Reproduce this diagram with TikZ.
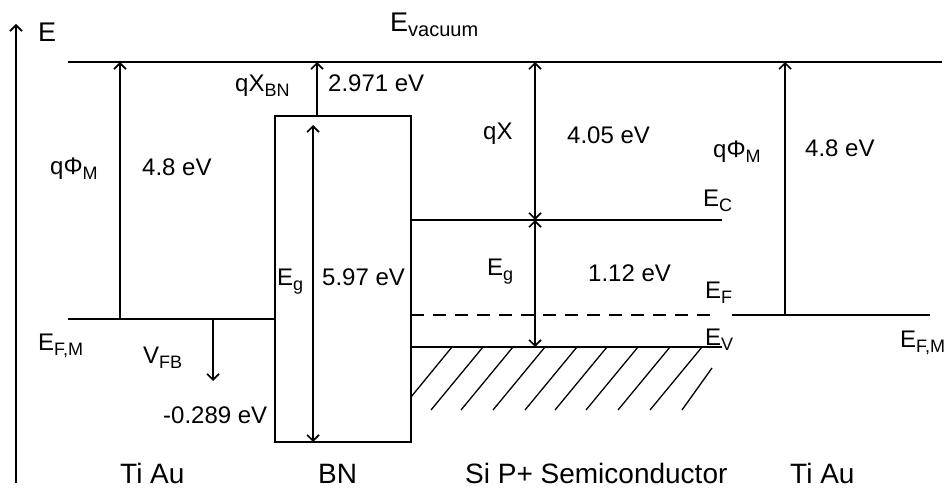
\documentclass[tikz,border=0pt]{standalone}
\usepackage{fontspec}
\setmainfont{Liberation Sans}
\usetikzlibrary{arrows.meta}
\newcommand{\lsub}[2][18]{\raisebox{-5pt}{\fontsize{#1}{#1}\selectfont #2}}
\begin{document}
\begin{tikzpicture}[x=1pt,y=-1pt,
  lvl/.style={line width=2.5pt},
  dlvl/.style={line width=2.5pt,dash pattern=on 13pt off 9pt},
  arr/.style={line width=1.6pt,-{Straight Barb[length=6pt,width=12pt]}},
  darr/.style={line width=1.6pt,{Straight Barb[length=6pt,width=12pt]}-{Straight Barb[length=6pt,width=12pt]}},
  hatchline/.style={line width=1.3pt},
  lbl/.style={inner sep=0pt,anchor=base west,font=\fontsize{24}{26}\selectfont},
  tlbl/.style={inner sep=0pt,anchor=base west,font=\fontsize{27}{29}\selectfont},
  blbl/.style={inner sep=0pt,anchor=base west,font=\fontsize{28}{30}\selectfont}]
\useasboundingbox (0,0) rectangle (950,489);
% coordinates
\coordinate (axB) at (16,483); \coordinate (axT) at (16,24);
\coordinate (vacL) at (68,62); \coordinate (vacR) at (942,62);
\coordinate (fmL) at (68,319); \coordinate (fmLe) at (275,319);
\coordinate (ecL) at (411,220); \coordinate (ecR) at (722,220);
\coordinate (efL) at (411,315); \coordinate (efR) at (716,315);
\coordinate (evL) at (411,347); \coordinate (evR) at (722,347);
\coordinate (fmRL) at (732,315); \coordinate (fmRR) at (930,315);
\coordinate (pmLb) at (120,319); \coordinate (pmLt) at (120,62);
\coordinate (xbnB) at (317,116); \coordinate (xbnT) at (317,62);
\coordinate (egbT) at (313,125); \coordinate (egbB) at (313,442);
\coordinate (vfbT) at (213,319); \coordinate (vfbB) at (213,381);
\coordinate (qxT) at (535,62); \coordinate (qxB) at (535,220);
\coordinate (egsB) at (535,347);
\coordinate (pmRb) at (785,315); \coordinate (pmRt) at (785,62);
% axis
\draw[arr] (axB) -- (axT);
% levels
\draw[lvl] (vacL) -- (vacR);
\draw[lvl] (fmL) -- (fmLe);
\node[draw,line width=2.5pt,inner sep=0pt,minimum width=136pt,minimum height=326pt] (bn) at (343,279) {};
\draw[lvl] (ecL) -- (ecR);
\draw[dlvl] (efL) -- (efR);
\draw[lvl] (evL) -- (evR);
\draw[lvl] (fmRL) -- (fmRR);
% hatching
\draw[hatchline] (452,347) -- (411,397);
\foreach \xt in {483,513,545,577,607,638,670,702}
  \draw[hatchline] (\xt,347) -- ({\xt-52},410);
\draw[hatchline] (712,368) -- (682,410);
% arrows
\draw[arr] (pmLb) -- (pmLt);
\draw[arr] (xbnB) -- (xbnT);
\draw[darr] (egbT) -- (egbB);
\draw[arr] (vfbT) -- (vfbB);
\draw[darr] (qxB) -- (qxT);
\draw[darr] (qxB) -- (egsB);
\draw[arr] (pmRb) -- (pmRt);
% labels
\node[tlbl] (tE) at (38,42) {E};
\node[tlbl] (tvac) at (390,32) {E\lsub[20]{vacuum}};
\node[lbl] (tpmL) at (50,175) {qΦ\lsub{M}};
\node[lbl] (t48L) at (142,176) {4.8 eV};
\node[lbl] (txbn) at (235,92) {qX\lsub{BN}};
\node[lbl] (t2971) at (328,92) {2.971 eV};
\node[lbl] (tegb) at (277,285) {E\lsub{g}};
\node[lbl] (t597) at (322,285) {5.97 eV};
\node[lbl] (tqx) at (483,140) {qX};
\node[lbl] (t405) at (567,144) {4.05 eV};
\node[lbl] (tec) at (703,207) {E\lsub{C}};
\node[lbl] (tegs) at (487,275) {E\lsub{g}};
\node[lbl] (t112) at (588,281) {1.12 eV};
\node[lbl] (tef) at (705,298) {E\lsub{F}};
\node[lbl] (tev) at (705,345) {E\lsub{V}};
\node[lbl] (tpmR) at (713,158) {qΦ\lsub{M}};
\node[lbl] (t48R) at (805,157) {4.8 eV};
\node[lbl] (tfmR) at (900,347) {E\lsub{F,M}};
\node[lbl] (tfmL) at (38,350) {E\lsub{F,M}};
\node[lbl] (tvfb) at (143,363) {V\lsub{FB}};
\node[lbl] (t0289) at (163,423) {-0.289 eV};
\node[blbl] (bTi1) at (120,483) {Ti Au};
\node[blbl] (bBN) at (318,483) {BN};
\node[blbl] (bSi) at (465,483) {Si P+ Semiconductor};
\node[blbl] (bTi2) at (790,483) {Ti Au};
\end{tikzpicture}
\end{document}
